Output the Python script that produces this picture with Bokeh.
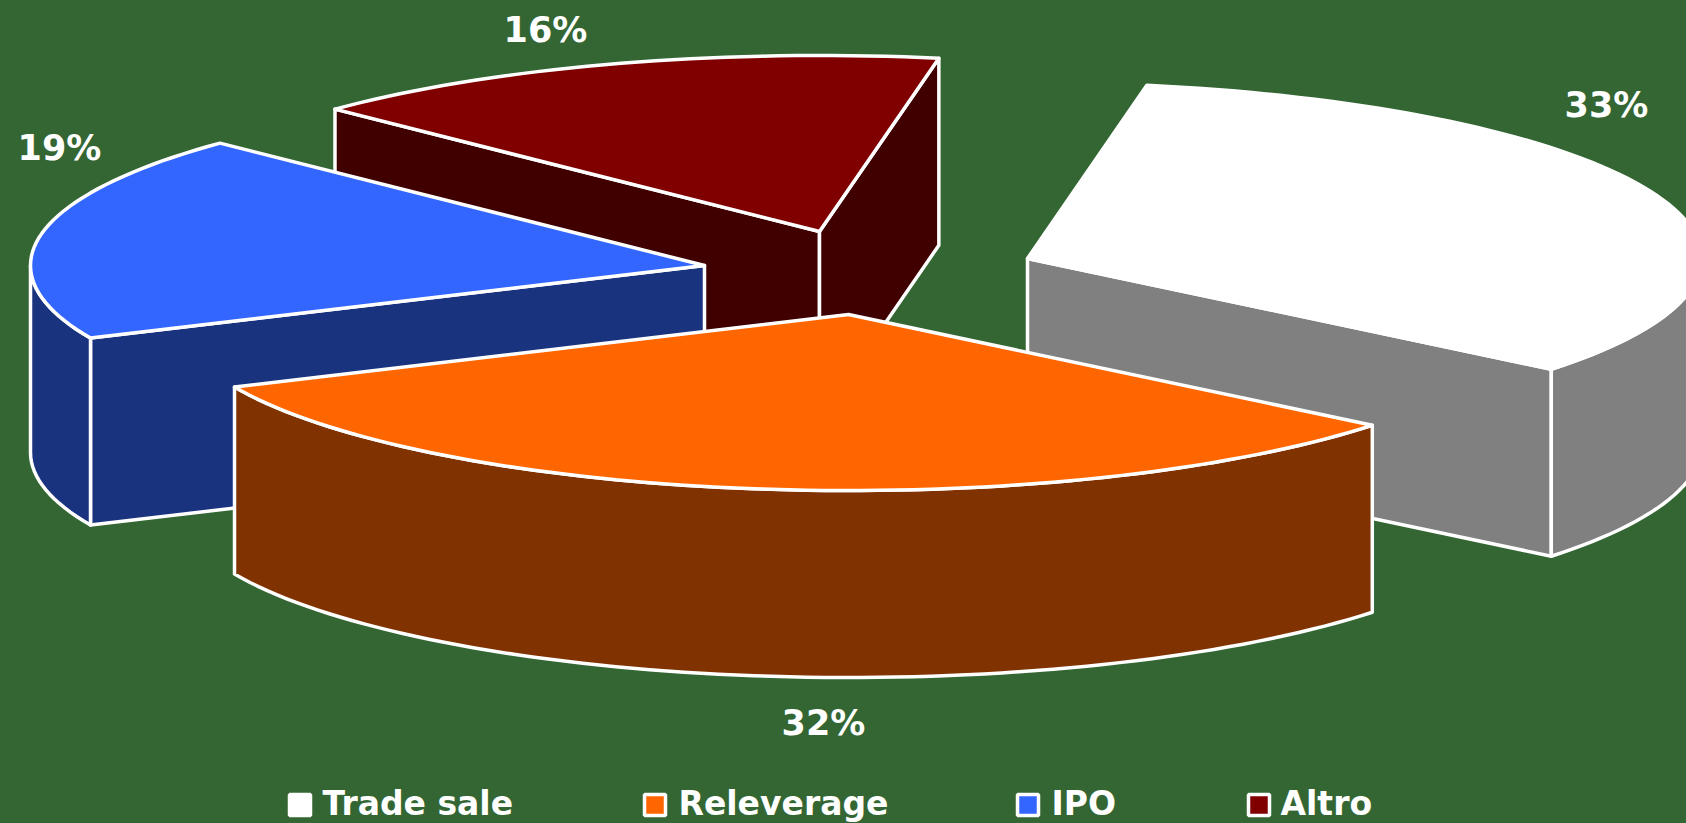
import math
from bokeh.plotting import figure
from bokeh.embed import file_html
from bokeh.resources import INLINE
from bokeh.core.properties import value

# --- data ---
categories = ["Trade sale", "Releverage", "IPO", "Altro"]
shares = [33.0, 32.4, 19.0, 15.6]
share_labels = ["33%", "32%", "19%", "16%"]

# --- styles ---
top_colors = ["#FFFFFF", "#FF6600", "#3366FF", "#800000"]
side_colors = ["#808080", "#803300", "#1A337F", "#400000"]
BG = "#336633"
FONT = "DejaVu Sans"

# --- layout (pixels of the page) ---
W, H = 1686, 823
RX, RY, DEPTH = 674, 176, 187
START = 10.2
apex_x = [1027, 848, 704, 819]
apex_y = [258, 314, 265, 231]
draw_order = [3, 0, 2, 1]
label_x = [1606, 823, 59, 545]
label_y = [104, 722, 147, 29]
legend_box_x = [289, 644, 1017, 1248]
legend_text_x = [322, 678, 1051, 1280]
LEGEND_BOX = 21
LEGEND_TOP, LEGEND_MID = 794, 803

p = figure(width=W, height=H, x_range=(0, W), y_range=(H, 0),
           output_backend="svg", toolbar_location=None, min_border=0,
           background_fill_color=BG, border_fill_color=BG, outline_line_color=None)
p.axis.visible = False
p.grid.visible = False


def rim(cx, cy, t0, t1):
    n = max(2, int(abs(t1 - t0) / 1.5))
    ts = [t0 + (t1 - t0) * i / n for i in range(n + 1)]
    return ([cx + RX * math.sin(math.radians(t)) for t in ts],
            [cy - RY * math.cos(math.radians(t)) for t in ts])


# angular span of every slice, from its share
spans = []
cur = START
for s in shares:
    spans.append((cur, cur + s * 3.6))
    cur += s * 3.6


def face(xs, ys, color):
    p.patch(xs, ys, fill_color=color, line_color="white", line_width=3.5,
            line_join="round")


for i in draw_order:
    t0, t1 = spans[i]
    cx, cy = apex_x[i], apex_y[i]
    # radial walls that face the viewer
    for t, facing in ((t0, math.sin(math.radians(t0)) < 0),
                      (t1, math.sin(math.radians(t1)) > 0)):
        if facing:
            ex, ey = rim(cx, cy, t, t)
            ex, ey = ex[0], ey[0]
            face([cx, ex, ex, cx], [cy, ey, ey + DEPTH, cy + DEPTH], side_colors[i])
    # outer wall: only the part of the rim at the front of the ellipse
    a, b = max(t0, 90), min(t1, 270)
    if a < b:
        xs, ys = rim(cx, cy, a, b)
        face(xs + xs[::-1], ys + [y + DEPTH for y in ys[::-1]], side_colors[i])
    # top face
    xs, ys = rim(cx, cy, t0, t1)
    face([cx] + xs, [cy] + ys, top_colors[i])

# value labels
p.text(label_x, label_y, text=share_labels, text_color="white",
       text_font=value(FONT), text_font_style="bold", text_font_size="35px",
       text_align="center", text_baseline="middle")

# legend
p.quad(left=legend_box_x, right=[x + LEGEND_BOX for x in legend_box_x],
       top=[LEGEND_TOP] * 4, bottom=[LEGEND_TOP + LEGEND_BOX] * 4,
       fill_color=top_colors, line_color="white", line_width=3.5)
p.text(legend_text_x, [LEGEND_MID] * 4, text=categories, text_color="white",
       text_font=value(FONT), text_font_style="bold", text_font_size="33px",
       text_align="left", text_baseline="middle")

html = file_html(p, INLINE)
html = html.replace("</head>",
                    f"<style>html,body{{margin:0;padding:0;overflow:hidden;background:{BG}}}</style></head>", 1)
open("out.html", "w").write(html)
